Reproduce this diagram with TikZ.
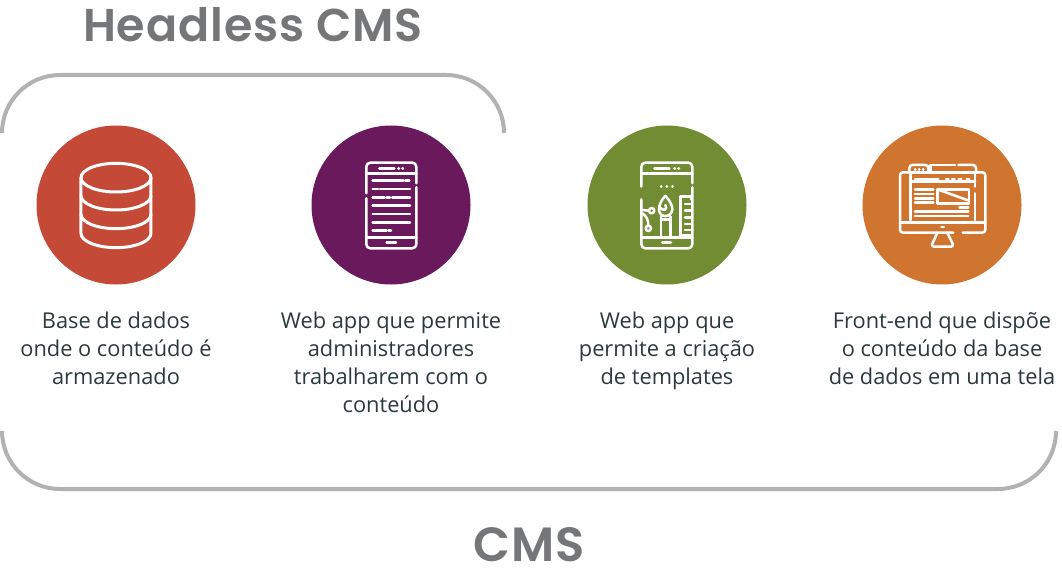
\documentclass[tikz,border=0pt]{standalone}
\usepackage{fontspec}
\setmainfont{Open Sans}
\newfontfamily\titlefont[LetterSpace=2,BoldFont={Poppins SemiBold}]{Poppins}
\definecolor{bracketgray}{HTML}{B0B2B4}
\definecolor{titlegray}{HTML}{757678}
\definecolor{textdark}{HTML}{2B3A3C}
\definecolor{dadosred}{HTML}{C44A37}
\definecolor{adminpurple}{HTML}{6A1A5C}
\definecolor{templategreen}{HTML}{728C33}
\definecolor{frontorange}{HTML}{CF7530}
\tikzset{
  disc/.style={circle,minimum size=159pt,inner sep=0pt},
  legenda/.style={align=center,text=textdark,inner sep=0pt,font=\fontsize{21.8}{28}\selectfont},
  titulo/.style={text=titlegray,inner sep=0pt,font=\titlefont\bfseries\fontsize{46}{50}\selectfont},
  chave/.style={bracketgray,line width=4pt,rounded corners=58pt},
  icone/.style={white,line width=2.5pt,line cap=round,line join=round}
}

\begin{document}
\begin{tikzpicture}[x=1pt,y=-1pt]
	\useasboundingbox (0,0) rectangle (1062,577);

	%Titulos
	\node[titulo] (headless) at (253,25) {Headless CMS};
	\node[titulo,font=\titlefont\bfseries\fontsize{48}{50}\selectfont] (cms) at (529,545) {CMS};

	%Chaves
	\draw[chave] (2,133) -- (2,75) -- (504,75) -- (504,133);
	\draw[chave] (2,431) -- (2,489) -- (1056,489) -- (1056,431);

	%Circulos
	\node[disc,fill=dadosred] (dados) at (116,205) {};
	\node[disc,fill=adminpurple] (admin) at (391,205) {};
	\node[disc,fill=templategreen] (template) at (667,205) {};
	\node[disc,fill=frontorange] (front) at (942,205) {};

	%Legendas
	\node[legenda] (txtdados) at (116,351) {\strut Base de dados\\onde o conteúdo é\\armazenado\strut};
	\node[legenda] (txtadmin) at (391,365) {\strut Web app que permite\\administradores\\trabalharem com o\\conteúdo\strut};
	\node[legenda] (txttemplate) at (667,351) {\strut Web app que\\permite a criação\\de templates\strut};
	\node[legenda] (txtfront) at (942,351) {\strut Front-end que dispõe\\o conteúdo da base\\de dados em uma tela\strut};

	%Banco de dados
	\begin{scope}[shift={(40,130)},x=0.3333pt,y=-0.3333pt,icone,line width=3pt]
		\draw (228,143) ellipse [x radius=105,y radius=43];
		\draw (123,143) -- (123,310) arc [start angle=180,end angle=360,x radius=105,y radius=-43] -- (333,143);
		\draw (123,197) arc [start angle=180,end angle=360,x radius=105,y radius=-43];
		\draw (123,253) arc [start angle=180,end angle=360,x radius=105,y radius=-43];
	\end{scope}

	%Celular admin
	\begin{scope}[shift={(310,130)},x=0.3333pt,y=-0.3333pt,icone]
		\draw[rounded corners=4pt] (319,160) -- (319,98) -- (169,98) -- (169,190);
		\draw[rounded corners=4pt] (169,205) -- (169,355) -- (319,355) -- (319,172);
		\draw (169,130) -- (319,130);
		\draw (169,322) -- (319,322);
		\draw (208,115) -- (253,115) (265,115) -- (267,115) (277,115) -- (279,115);
		\draw (188,152) -- (280,152) (285,152) -- (298,152);
		\draw (188,177) -- (204,177) (210,177) -- (300,177);
		\draw (188,202) -- (224,202) (230,202) -- (240,202) (247,202) -- (300,202);
		\draw (188,227) -- (300,227);
		\draw (188,252) -- (300,252);
		\draw (188,277) -- (300,277);
		\draw (188,301) -- (230,301) (236,301) -- (243,301);
		\draw (230,337) -- (258,337);
	\end{scope}

	%Celular template
	\begin{scope}[shift={(585,130)},x=0.3333pt,y=-0.3333pt,icone]
		\draw[rounded corners=4pt] (322,160) -- (322,98) -- (169,98) -- (169,170);
		\draw[rounded corners=4pt] (169,208) -- (169,355) -- (322,355) -- (322,172);
		\draw (169,130) -- (322,130);
		\draw (169,322) -- (322,322);
		\draw (208,115) -- (253,115) (268,115) -- (270,115) (280,115) -- (282,115);
		\draw (232,337) -- (258,337);
		\draw (228,170) -- (229,170) (245,170) -- (246,170) (262,170) -- (263,170);
		%Pincel
		\draw (241,197) .. controls (228,212) and (222,225) .. (222,238) .. controls (222,265) and (260,265) .. (262,238) .. controls (262,225) and (254,212) .. (241,197);
		\draw (224,232) .. controls (235,245) and (250,240) .. (241,225);
		\draw (228,260) -- (228,322) (256,260) -- (256,322);
		\draw (228,268) -- (256,268);
		%Regua
		\draw (287,322) -- (287,200) -- (318,200) -- (318,208);
		\draw (287,315) -- (316,315);
		\foreach \yy in {222,242,262,282,300}
			\draw (300,\yy) -- (316,\yy);
		%Nos
		\draw (200,242) circle (8);
		\draw (190,295) circle (8);
		\draw (172,240) -- (192,242);
		\draw (172,250) .. controls (185,258) and (190,270) .. (190,287);
	\end{scope}

	%Monitor
	\begin{scope}[shift={(860,130)},x=0.3333pt,y=-0.3333pt,icone]
		\draw[rounded corners=3pt] (148,127) -- (120,127) -- (120,308) -- (280,308);
		\draw[rounded corners=3pt] (308,308) -- (376,308) -- (376,127) -- (348,127);
		\draw (120,277) -- (376,277);
		\draw (148,127) -- (348,127);
		\draw (152,127) -- (152,270);
		\draw (345,127) -- (345,170) (345,190) -- (345,270);
		\draw[rounded corners=3pt] (148,127) -- (148,105) -- (205,105) -- (205,127);
		\draw (212,127) -- (212,105) -- (285,105);
		\draw[rounded corners=3pt] (295,105) -- (348,105) -- (348,127);
		\draw (165,118) -- (166,118) (177,118) -- (178,118) (189,118) -- (190,118);
		\draw (152,155) -- (345,155);
		\draw (165,147) -- (235,147);
		\foreach \xx in {258,276,296,320}
			\draw (\xx,147) -- (\xx+8,147);
		\foreach \yy in {178,192,205,218}
			\draw (165,\yy) -- (220,\yy);
		\draw (232,178) rectangle (327,220);
		\draw (232,178) -- (327,212);
		\draw (298,232) -- (325,232);
		\draw (165,245) -- (325,245);
		\draw (165,258) -- (325,258);
		\draw (244,291) -- (252,291);
		\draw[rounded corners=3pt] (232,308) -- (213,350) -- (282,350) -- (262,308);
	\end{scope}
\end{tikzpicture}
\end{document}
